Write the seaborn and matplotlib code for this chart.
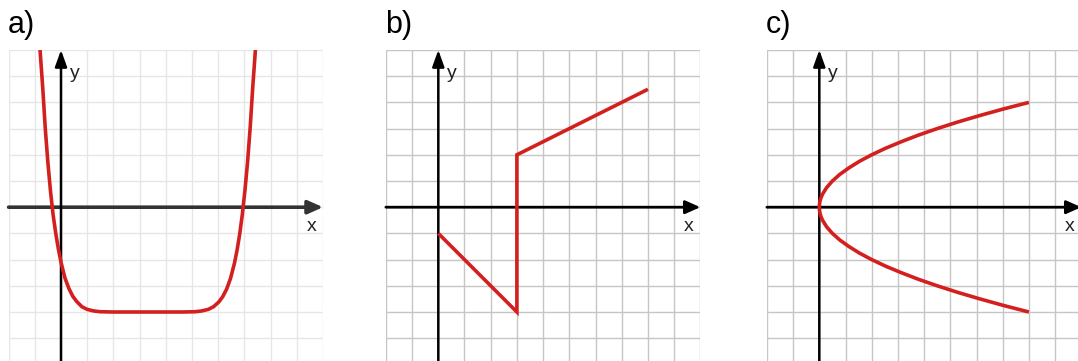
import pandas as pd
import matplotlib
matplotlib.use("Agg")
import matplotlib.pyplot as plt
import seaborn as sns

# =========================
# Daten (Einheit = 1 Kästchen)
# =========================
panel_labels = ["a)", "b)", "c)"]

# a) flacher "Trog"
a_x = [-0.8, -0.7, -0.6, -0.5, -0.4, -0.3, -0.2, -0.1, 0.0, 0.15, 0.3, 0.45,
       0.6, 0.8, 1.0, 1.25, 1.5, 2.0, 2.6, 3.3, 4.0, 4.6, 5.12, 5.37, 5.62,
       5.82, 6.02, 6.17, 6.32, 6.47, 6.62, 6.72, 6.82, 6.92, 7.02, 7.12,
       7.22, 7.32, 7.42]
a_y = [6.0, 4.6, 3.0, 1.7, 0.6, -0.3, -1.0, -1.6, -2.1, -2.7, -3.1, -3.4,
       -3.6, -3.8, -3.9, -3.96, -3.99, -4.0, -4.0, -4.0, -4.0, -4.0, -3.99,
       -3.96, -3.9, -3.8, -3.62, -3.42, -3.13, -2.72, -2.14, -1.64, -1.03,
       -0.28, 0.63, 1.71, 3.03, 4.6, 6.0]

# b) Strecken mit Sprung bei x = 3
b_x = [0, 3, 3, 8]
b_y = [-1, -4, 2, 4.5]

# c) liegende Parabel
c_y = [-4, -3.75, -3.5, -3.25, -3, -2.75, -2.5, -2.25, -2, -1.75, -1.5,
       -1.25, -1, -0.75, -0.5, -0.375, -0.25, -0.125, 0,
       0.125, 0.25, 0.375, 0.5, 0.75, 1, 1.25, 1.5, 1.75, 2, 2.25, 2.5,
       2.75, 3, 3.25, 3.5, 3.75, 4]
c_x = [8, 7.03, 6.13, 5.28, 4.5, 3.78, 3.13, 2.53, 2, 1.53, 1.13,
       0.78, 0.5, 0.28, 0.125, 0.07, 0.03, 0.008, 0,
       0.008, 0.03, 0.07, 0.125, 0.28, 0.5, 0.78, 1.13, 1.53, 2, 2.53, 3.13,
       3.78, 4.5, 5.28, 6.13, 7.03, 8]

x_lim = (-2, 10)
y_lim = (-5.9, 6)

RED = "#d41f1f"

# =========================
# Plot
# =========================
sns.set_style("white")
plt.rcParams['font.family'] = ['Liberation Sans', 'DejaVu Sans']

W, H = 1078, 361
fig = plt.figure(figsize=(W / 100, H / 100), dpi=100)

unit = 26.2
ax_w = 12 * unit
ax_h = (y_lim[1] - y_lim[0]) * unit
lefts = [8.6, 385.9, 766.9]
top = 50

panels = [
    (pd.DataFrame({'x': a_x, 'y': a_y}), '#e6e6e6', '#333333', 2.6),
    (pd.DataFrame({'x': b_x, 'y': b_y}), '#c6c6c6', '#000000', 2.0),
    (pd.DataFrame({'x': c_x, 'y': c_y}), '#c6c6c6', '#000000', 2.0),
]

for i, (df, grid_col, xaxis_col, xaxis_lw) in enumerate(panels):
    ax = fig.add_axes([lefts[i] / W, (H - top - ax_h) / H, ax_w / W, ax_h / H])
    ax.set_xlim(*x_lim)
    ax.set_ylim(*y_lim)
    ax.set_xticks(range(-2, 11))
    ax.set_yticks(range(-5, 7))
    ax.tick_params(length=0, labelbottom=False, labelleft=False)
    ax.grid(True, color=grid_col, lw=1.0)
    ax.set_axisbelow(True)
    for s in ax.spines.values():
        s.set_visible(False)

    # Achsenpfeile
    ax.annotate('', xy=(x_lim[1], 0), xytext=(x_lim[0], 0),
                arrowprops=dict(arrowstyle='-|>,head_length=0.45,head_width=0.2',
                                mutation_scale=20, lw=xaxis_lw, color=xaxis_col,
                                shrinkA=0, shrinkB=0), zorder=3)
    ax.annotate('', xy=(0, y_lim[1]), xytext=(0, y_lim[0]),
                arrowprops=dict(arrowstyle='-|>,head_length=0.5,head_width=0.18',
                                mutation_scale=20, lw=1.8, color='black',
                                shrinkA=0, shrinkB=0), zorder=3)

    sns.lineplot(data=df, x='x', y='y', sort=False, estimator=None,
                 color=RED, lw=2.6, ax=ax, zorder=5,
                 solid_capstyle='butt', solid_joinstyle='miter')
    ax.set_xlabel('')
    ax.set_ylabel('')

    ax.text(9.55, -0.72, 'x', fontsize=14, color='#222222',
            ha='center', va='center')
    ax.text(0.33, 5.1, 'y', fontsize=14, color='#222222',
            ha='left', va='center')

    fig.text(lefts[i] / W - 0.001, 1 - 33 / H, panel_labels[i], fontsize=22,
             ha='left', va='baseline', color='black')

fig.savefig('out.png', dpi=100)
plt.close(fig)
